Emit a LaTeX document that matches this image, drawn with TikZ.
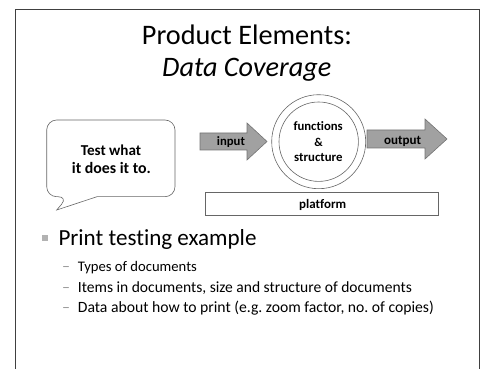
\documentclass[tikz,border=0pt]{standalone}
\usepackage{fontspec}
\usepackage{graphicx}
\setmainfont{Carlito}[Ligatures=NoCommon]
\frenchspacing
\newcommand{\fitw}[2]{\resizebox{#1pt}{!}{#2}}
\begin{document}
\begin{tikzpicture}[x=1pt,y=-1pt,
  txt/.style={inner sep=0pt, anchor=base west},
  btxt/.style={inner sep=0pt, anchor=base west, font=\bfseries},
  arr/.style={fill=black!37, draw=black!55, line width=0.6pt},
  thin/.style={draw=black!60, line width=0.6pt},
  dsh/.style={font=\fontsize{16}{18}\selectfont, anchor=base west, inner sep=0pt, text=black!40}]
\useasboundingbox (0,0) rectangle (483,369);
\draw[black!75, line width=1pt] (15,10) rectangle (479,380);
% title
\node[txt] (t1) at (141.7,45) {\fitw{210}{Product Elements:}};
\node[txt, font=\itshape] (t2) at (162,76.7) {\fitw{169}{Data Coverage}};
% speech bubble
\draw[thin] (56.7,210) -- (97,196.7) [rounded corners=10pt] -- (175,196.7) -- (175,120) -- (46.7,120) -- (46.7,196.7) -- (68,196.7) [sharp corners] -- cycle;
\node[btxt] (bub1) at (80.7,156) {\fitw{60.3}{Test what}};
\node[btxt] (bub2) at (71.7,173.3) {\fitw{79}{it does it to.}};
% input arrow
\filldraw[arr] (200,133) -- (247,133) -- (247,123) -- (267,141.5) -- (247,160) -- (247,150) -- (200,150) -- cycle;
\node[btxt] (in) at (216.7,145.7) {\fitw{28}{input}};
% circles
\draw[thin] (318.7,141.7) circle (47);
\draw[thin] (318.7,141.7) circle (39.7);
\node[btxt] (fn) at (293.3,130.7) {\fitw{49.3}{functions}};
\node[inner sep=0pt, anchor=base, font=\bfseries\fontsize{12}{14}\selectfont] (amp) at (318.5,147) {\&};
\node[btxt] (st) at (294,162) {\fitw{48.3}{structure}};
% output arrow
\filldraw[arr] (367,130) -- (425,130) -- (425,119) -- (447,139) -- (425,159) -- (425,148) -- (367,148) -- cycle;
\node[btxt] (out) at (384,144.3) {\fitw{37}{output}};
% platform
\draw[thin] (205,192) rectangle (438,215);
\node[btxt] (pl) at (299,208.3) {\fitw{47}{platform}};
% bullets
\fill[black!30] (42,235) rectangle (48,241);
\node[txt] (b1) at (58.3,245) {\fitw{198}{Print testing example}};
\node[dsh] (d1) at (62,271.7) {–};
\node[txt] (s1) at (77.7,271.7) {\fitw{119}{Types of documents}};
\node[dsh] (d2) at (62,292.3) {–};
\node[txt] (s2) at (77.7,292.3) {\fitw{334}{Items in documents, size and structure of documents}};
\node[dsh] (d3) at (62,312.3) {–};
\node[txt] (s3) at (77.7,312.3) {\fitw{356}{Data about how to print (e.g. zoom factor, no. of copies)}};
\end{tikzpicture}
\end{document}
